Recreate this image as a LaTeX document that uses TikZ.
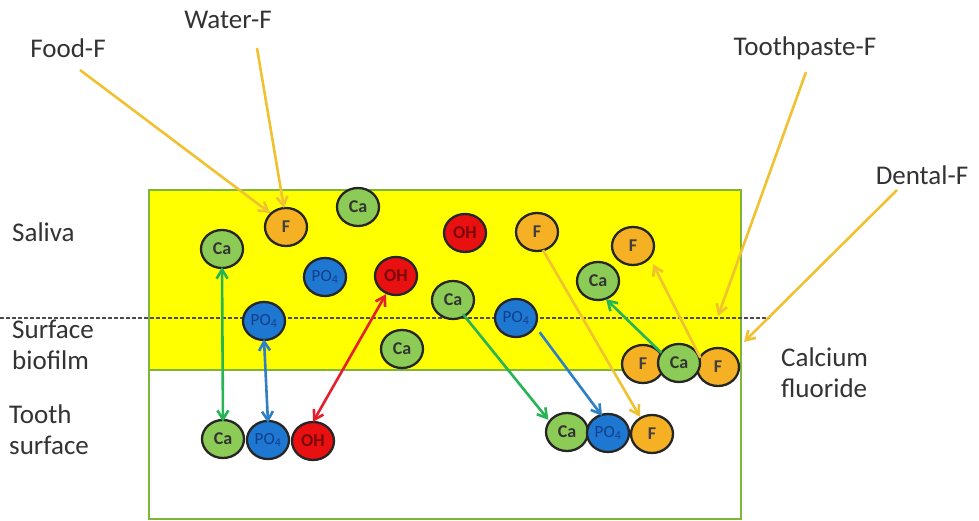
\documentclass[tikz,border=0pt]{standalone}
\usepackage{fontspec}
\setmainfont{Carlito}
\usetikzlibrary{shapes.geometric,arrows.meta}
\definecolor{band}{HTML}{FFFF00}
\definecolor{edgegreen}{HTML}{7DB63A}
\definecolor{caFill}{HTML}{8CCB55}
\definecolor{poFill}{HTML}{1E78D2}
\definecolor{poText}{HTML}{123E8A}
\definecolor{ohFill}{HTML}{E81010}
\definecolor{ohText}{HTML}{7A0A0A}
\definecolor{fFill}{HTML}{F5B024}
\definecolor{fArrow}{HTML}{F0C232}
\definecolor{gArrow}{HTML}{26B455}
\definecolor{bArrow}{HTML}{2F7FC4}
\definecolor{rArrow}{HTML}{E4202E}
\definecolor{labelGray}{HTML}{333333}
\tikzset{
  ion/.style={ellipse,draw=black!85,line width=2.3pt,minimum width=42pt,minimum height=38pt,inner sep=0pt,font=\fontsize{18}{18}\selectfont\bfseries},
  ca/.style={ion,fill=caFill,text=black!80},
  po/.style={ion,fill=poFill,text=poText,font=\fontsize{17}{17}\selectfont},
  oh/.style={ion,fill=ohFill,text=ohText},
  fl/.style={ion,fill=fFill,text=black!75},
  lbl/.style={font=\fontsize{27}{31}\selectfont,text=labelGray,align=left,inner sep=0pt},
  flow/.style={line width=2.6pt,-{Straight Barb[length=9pt,width=11pt]}},
  swap/.style={line width=2.6pt,{Straight Barb[length=9pt,width=11pt]}-{Straight Barb[length=9pt,width=11pt]}},
}
\newcommand{\POf}{PO\textsubscript{4}}
\begin{document}
\begin{tikzpicture}[x=1pt,y=-1pt]
\useasboundingbox (0,0) rectangle (979,521);
% layers
\fill[white] (0,0) rectangle (979,521);
\draw[edgegreen,line width=1.5pt,fill=band] (149,190) rectangle (741,370);
\draw[edgegreen,line width=1.5pt] (149,370) -- (149,519) -- (741,519) -- (741,370);
\draw[black!70,line width=1.4pt,dash pattern=on 3.5pt off 2.5pt] (0,318) -- (770,318);

% layer labels
\node[lbl,anchor=west] (saliva) at (12,232) {Saliva};
\node[lbl,anchor=west] (biofilm) at (12,345) {Surface\\biofilm};
\node[lbl,anchor=west] (tooth) at (9,430) {Tooth\\surface};
\node[lbl,anchor=west] (caf) at (781,373) {Calcium\\fluoride};

% fluoride sources
\node[lbl] (food) at (68,48) {Food-F};
\node[lbl] (water) at (228,20) {Water-F};
\node[lbl] (paste) at (805,48) {Toothpaste-F};
\node[lbl] (dental) at (922,175) {Dental-F};

% ions in saliva and biofilm
\node[fl] (f1) at (286,227) {F};
\node[ca] (ca1) at (358,207) {Ca};
\node[ca] (ca2) at (222,249) {Ca};
\node[po] (po1) at (325,277) {\POf};
\node[oh] (oh1) at (396,276) {OH};
\node[po] (po2) at (264,321) {\POf};
\node[ca] (ca3) at (402,349) {Ca};
\node[oh] (oh2) at (465,233) {OH};
\node[fl] (f2) at (537,232) {F};
\node[fl] (f3) at (633,246) {F};
\node[ca] (ca4) at (598,281) {Ca};
\node[ca] (ca5) at (453,300) {Ca};
\node[po] (po3) at (516,318) {\POf};

% calcium fluoride cluster
\node[fl] (f4) at (643,364) {F};
\node[fl] (f5) at (718,367) {F};
\node[ca] (ca6) at (679,363) {Ca};

% tooth surface minerals
\node[ca] (ca7) at (223,439) {Ca};
\node[oh] (oh3) at (313,441) {OH};
\node[po] (po4) at (268,440) {\POf};
\node[ca] (ca8) at (567,432) {Ca};
\node[fl] (f6) at (652,434) {F};
\node[po] (po5) at (608,433) {\POf};

% anchor points for arrows
\coordinate (foodS) at (80,70);
\coordinate (foodE) at (270,213);
\coordinate (waterS) at (257,48);
\coordinate (waterE) at (284,208);
\coordinate (pasteS) at (806,72);
\coordinate (pasteE) at (718,316);
\coordinate (dentalS) at (897,190);
\coordinate (dentalE) at (744,342);

% source arrows
\draw[flow,fArrow] (foodS) -- (foodE);
\draw[flow,fArrow] (waterS) -- (waterE);
\draw[flow,fArrow] (pasteS) -- (pasteE);
\draw[flow,fArrow] (dentalS) -- (dentalE);

% exchange with tooth surface
\draw[swap,gArrow] ([yshift=2pt]ca2.south) -- ([yshift=-3pt]ca7.north);
\draw[swap,bArrow] ([yshift=2pt]po2.south) -- ([yshift=-3pt]po4.north);
\draw[swap,rArrow] ([shift={(-10pt,2pt)}]oh1.south) -- ([shift={(0pt,-1pt)}]oh3.north);

% uptake into fluorapatite
\draw[flow,gArrow] ([shift={(10pt,6pt)}]ca5.south) -- ([shift={(-3pt,-2pt)}]ca8.north west);
\draw[flow,bArrow] ([shift={(8pt,0pt)}]po3.south east) -- ([shift={(-6pt,-3pt)}]po5.north);
\draw[flow,fArrow] ([shift={(6pt,2pt)}]f2.south) -- ([shift={(-12pt,-3pt)}]f6.north);

% release from calcium fluoride
\draw[flow,gArrow] ([shift={(-2pt,-4pt)}]ca6.north west) -- ([shift={(8pt,2pt)}]ca4.south);
\draw[flow,fArrow] ([shift={(-2pt,-5pt)}]f5.north west) -- ([shift={(20pt,2pt)}]f3.south);
\end{tikzpicture}
\end{document}
